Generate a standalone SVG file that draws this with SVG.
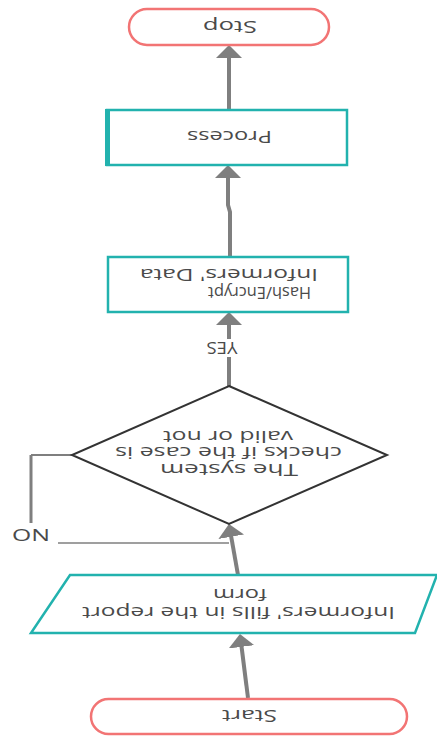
<svg xmlns="http://www.w3.org/2000/svg" width="437" height="736" viewBox="0 0 437 736">
<style>
.bg{fill:#ffffff}
.term{fill:#ffffff;stroke:#f27474;stroke-width:2.5}
.proc{fill:#ffffff;stroke:#22b2ae;stroke-width:2.5}
.dec{fill:#ffffff;stroke:#333333;stroke-width:2}
.conn{fill:none;stroke:#7f7f7f;stroke-width:4}
.thin{fill:none;stroke:#7f7f7f;stroke-width:2}
text{font-family:"Open Sans","DejaVu Sans",sans-serif;font-size:15.5px;fill:#4a4a4a;text-anchor:middle;dominant-baseline:central}
</style>
<defs>
<marker id="ah" viewBox="0 0 13 26" refX="3" refY="13" markerWidth="13" markerHeight="26" markerUnits="userSpaceOnUse" orient="auto">
<path d="M0,0 L13,13 L0,26 z" fill="#7f7f7f"/>
</marker>
</defs>
<rect class="bg" x="0" y="0" width="437" height="736"/>
<g id="connectors">
<path class="conn" d="M229,110 L229,55" marker-end="url(#ah)"/>
<path class="conn" d="M230,257 L230,212 L228,205 L228,175" marker-end="url(#ah)"/>
<path class="conn" d="M229,386 L229,322" marker-end="url(#ah)"/>
<rect x="204" y="339" width="37" height="18" fill="#ffffff"/>
<text x="222" y="348" transform="rotate(180 222 348)" textLength="31" lengthAdjust="spacingAndGlyphs">YES</text>
<path class="conn" d="M238,575 L230.7,533.8" marker-end="url(#ah)"/>
<path class="conn" d="M248,698 L241.2,643.9" marker-end="url(#ah)"/>
<path class="thin" d="M72,455 L31,455"/>
<path class="conn" style="stroke-width:3" d="M31,455 L31,523"/>
<text x="31" y="535" transform="rotate(180 31 535)" textLength="38" lengthAdjust="spacingAndGlyphs">NO</text>
<path class="thin" style="stroke-width:1.5" d="M58,543 L229,543"/>
</g>
<g id="stop">
<rect class="term" x="129" y="9" width="200" height="36" rx="18"/>
<text x="230" y="27" transform="rotate(180 230 27)" textLength="54" lengthAdjust="spacingAndGlyphs">Stop</text>
</g>
<g id="process">
<rect class="proc" x="107" y="110" width="240" height="55"/>
<rect x="105" y="109" width="5" height="57" fill="#22b2ae"/>
<text x="229.5" y="137" transform="rotate(180 229.5 137)" textLength="85" lengthAdjust="spacingAndGlyphs">Process</text>
</g>
<g id="hash">
<rect class="proc" x="108" y="257" width="240" height="55"/>
<text x="259.5" y="293" transform="rotate(180 259.5 293)" textLength="103" lengthAdjust="spacingAndGlyphs">Hash/Encrypt</text>
<text x="229" y="275" transform="rotate(180 229 275)" textLength="178" lengthAdjust="spacingAndGlyphs">Informers'  Data</text>
</g>
<g id="decision">
<polygon class="dec" points="229,386 387,455 229,524 72,455"/>
<text x="229" y="470" transform="rotate(180 229 470)" textLength="138" lengthAdjust="spacingAndGlyphs">The  system</text>
<text x="228.5" y="453" transform="rotate(180 228.5 453)" textLength="227" lengthAdjust="spacingAndGlyphs">checks if the case is</text>
<text x="228" y="437" transform="rotate(180 228 437)" textLength="130" lengthAdjust="spacingAndGlyphs">valid or not</text>
</g>
<g id="input">
<polygon class="proc" points="70,575 437,575 415,633 31,633"/>
<text x="238.5" y="613" transform="rotate(180 238.5 613)" textLength="313" lengthAdjust="spacingAndGlyphs">Informers' fills in the report</text>
<text x="240" y="595" transform="rotate(180 240 595)" textLength="54" lengthAdjust="spacingAndGlyphs">form</text>
</g>
<g id="start">
<rect class="term" x="91" y="699" width="316" height="35" rx="17.5"/>
<text x="249.5" y="716" transform="rotate(180 249.5 716)" textLength="55" lengthAdjust="spacingAndGlyphs">Start</text>
</g>
</svg>
